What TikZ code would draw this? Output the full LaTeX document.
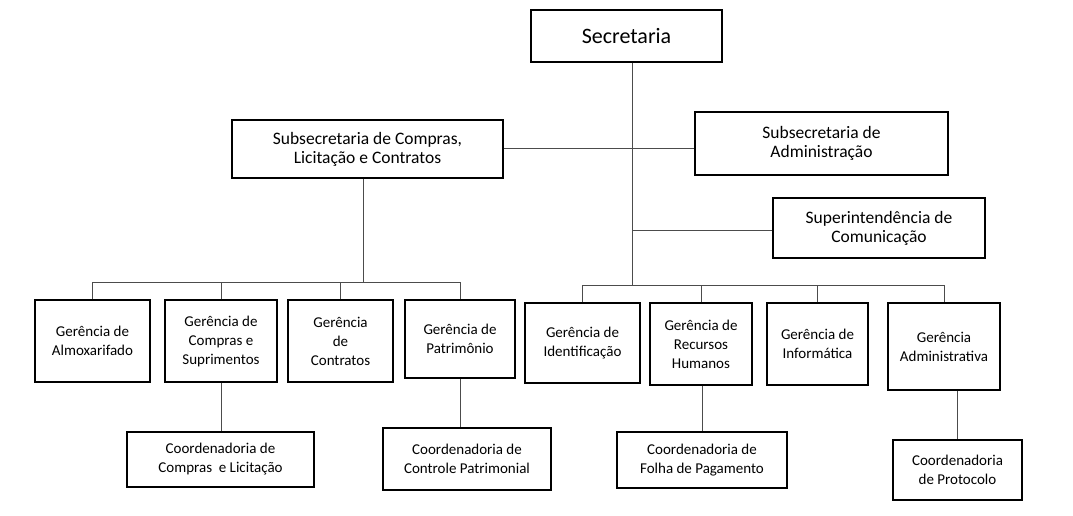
\documentclass[tikz,border=0pt]{standalone}
\usepackage{fontspec}
\setmainfont{Carlito}
\begin{document}
\begin{tikzpicture}[x=1pt,y=-1pt,
 bx/.style={draw,line width=1.1pt,align=center,inner sep=0pt,font=\fontsize{15}{19}\selectfont},
 ln/.style={line width=0.8pt,draw=black!70}]
\useasboundingbox (0,0) rectangle (1073,515);
\newcommand\bxat[6]{\node[bx,minimum width=#3-#2,minimum height=#5-#4] (#1) at ({(#2+#3)/2},{(#4+#5)/2}) {#6};}
\bxat{sec}{531}{722}{10}{62}{\fontsize{22}{26}\selectfont Secretaria}
\bxat{sc}{232}{503}{120}{178}{\fontsize{17.5}{24}\selectfont Subsecretaria de Compras,\\\fontsize{17.5}{24}\selectfont Licitação e Contratos}
\bxat{sa}{695}{948}{112}{175}{\fontsize{17.5}{24}\selectfont Subsecretaria de\\\fontsize{17.5}{24}\selectfont Administração}
\bxat{si}{773}{985}{198}{258}{\fontsize{17.5}{24}\selectfont Superintendência de\\\fontsize{17.5}{24}\selectfont Comunicação}
\bxat{g1}{35}{150}{300}{382}{Gerência de\\Almoxarifado}
\bxat{g2}{165}{277}{300}{382}{Gerência de\\Compras e\\Suprimentos}
\bxat{g3}{288}{393}{300}{382}{Gerência\\de\\Contratos}
\bxat{g4}{405}{515}{300}{378}{Gerência de\\Patrimônio}
\bxat{g5}{525}{640}{303}{383}{Gerência de\\Identificação}
\bxat{g6}{650}{752}{303}{385}{Gerência de\\Recursos\\Humanos}
\bxat{g7}{767}{868}{303}{385}{Gerência de\\Informática}
\bxat{g8}{888}{1000}{303}{390}{Gerência\\Administrativa}
\bxat{c1}{127}{314}{432}{487}{Coordenadoria de\\Compras\ \ e Licitação}
\bxat{c2}{383}{551}{428}{490}{Coordenadoria de\\Controle Patrimonial}
\bxat{c3}{617}{787}{432}{488}{Coordenadoria de\\Folha de Pagamento}
\bxat{c4}{893}{1022}{440}{500}{Coordenadoria\\de Protocolo}
\coordinate (m) at (632,282);
\draw[ln] (sec.south -| m) -- (m);
\draw[ln] (sc.east |- 0,148) -- (sa.west |- 0,148);
\draw[ln] (632,230) -- (si.west |- 0,230);
\draw[ln] (sc.south -| 363,0) -- (363,282);
\draw[ln] (g1.north) |- (g4.north |- 0,282) -- (g4.north);
\draw[ln] (g2.north) -- (g2.north |- 0,282);
\draw[ln] (g3.north) -- (g3.north |- 0,282);
\draw[ln] (g5.north) |- (g8.north |- 0,285) -- (g8.north);
\draw[ln] (m) -- (632,285);
\draw[ln] (g6.north) -- (g6.north |- 0,285);
\draw[ln] (g7.north) -- (g7.north |- 0,285);
\draw[ln] (g2.south -| 221,0) -- (c1.north -| 221,0);
\draw[ln] (g4.south -| 460,0) -- (c2.north -| 460,0);
\draw[ln] (g6.south -| 702,0) -- (c3.north -| 702,0);
\draw[ln] (g8.south -| 957,0) -- (c4.north -| 957,0);
\end{tikzpicture}
\end{document}
